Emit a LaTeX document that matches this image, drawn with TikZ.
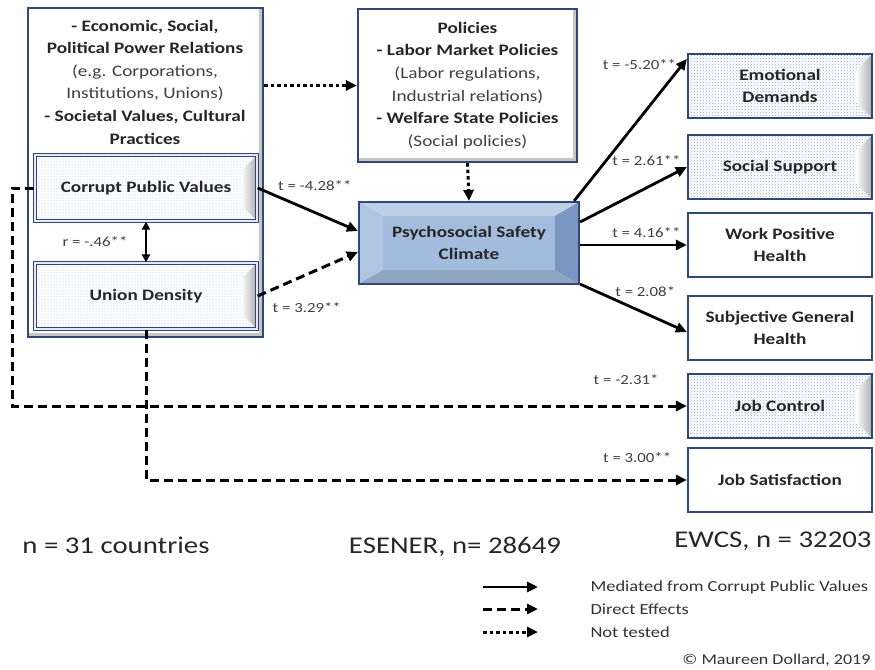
\documentclass[tikz,border=0pt]{standalone}
\usepackage{fontspec}
\setmainfont{Carlito}[FakeStretch=1.2]
\usetikzlibrary{arrows.meta,positioning,calc,patterns}

\definecolor{frameblue}{RGB}{47,72,120}
\definecolor{pscblue}{RGB}{163,187,221}
\definecolor{pscdark}{RGB}{122,150,194}
\definecolor{dotblue}{RGB}{150,170,212}
\definecolor{labelgray}{RGB}{64,64,64}

\begin{document}
\begin{tikzpicture}[
    x=1pt, y=-1pt,
    >={Triangle[length=11pt,width=10pt]},
    boxtext/.style={font=\fontsize{16}{22.6}\selectfont\bfseries, align=center, text=black!85},
    tlabel/.style={font=\fontsize{14}{16}\selectfont, text=labelgray, inner sep=1pt},
    sampletext/.style={font=\fontsize{24}{28}\selectfont, text=black!85, anchor=base},
    legtext/.style={font=\fontsize{15.4}{20}\selectfont, text=black!80, anchor=west},
    % grey wedge on the right hand side of the raised boxes
    wedge/.style={path picture={
        \coordinate (bbne) at (path picture bounding box.north east);
        \coordinate (bbse) at (path picture bounding box.south east);
        \shade[left color=white, right color=gray!65]
            (bbne) -- ($(bbne)+(-16,16)$) -- ($(bbse)+(-16,-16)$) -- (bbse) -- cycle;}},
    shadowframe/.style={draw=frameblue, line width=2.2pt, fill=white, boxtext, path picture={
        \coordinate (fne) at (path picture bounding box.north east);
        \coordinate (fse) at (path picture bounding box.south east);
        \coordinate (fsw) at (path picture bounding box.south west);
        \draw[gray!45, line width=9pt] (fne) -- (fse) -- (fsw);}},
    dotbox/.style={draw=frameblue, line width=1.3pt, double=white!75!dotblue, double distance=1.1pt,
        preaction={fill=white}, pattern=dots, pattern color=dotblue, boxtext, wedge,
        minimum width=222pt, minimum height=66pt},
    bevelbox/.style={draw=frameblue, line width=2.2pt, preaction={fill=white},
        pattern=crosshatch dots, pattern color=dotblue, boxtext, wedge},
    whitebox/.style={draw=frameblue, line width=2.2pt, fill=white, boxtext},
    outsize/.style={minimum width=184pt, minimum height=64pt},
    pscbox/.style={draw=frameblue, line width=2.2pt, fill=pscblue, boxtext, path picture={
        \coordinate (pnw) at (path picture bounding box.north west);
        \coordinate (pne) at (path picture bounding box.north east);
        \coordinate (pse) at (path picture bounding box.south east);
        \coordinate (psw) at (path picture bounding box.south west);
        \fill[pscblue!70!white] (pnw) -- (pne) -- ($(pne)+(-24,14)$) -- ($(pnw)+(24,14)$) -- cycle;
        \fill[pscblue!85!white] (pnw) -- (psw) -- ($(psw)+(24,-14)$) -- ($(pnw)+(24,14)$) -- cycle;
        \fill[pscblue!88!black] (psw) -- (pse) -- ($(pse)+(-24,-14)$) -- ($(psw)+(24,-14)$) -- cycle;
        \fill[pscdark] (pne) -- (pse) -- ($(pse)+(-24,-14)$) -- ($(pne)+(-24,14)$) -- cycle;}},
    mainarrow/.style={->, line width=2.8pt},
    directarrow/.style={->, line width=3pt, dash pattern=on 9pt off 5pt},
    untested/.style={->, line width=3pt, dash pattern=on 3.5pt off 3pt}
]
\useasboundingbox (0,0) rectangle (875,669);

% Context
\node[shadowframe, minimum width=235pt, minimum height=329pt] (ctx) at (145.5,172.5) {};
\node[boxtext] (ctxtext) at (145,82) {- Economic, Social,\\ Political Power Relations\\
    {\mdseries\color{labelgray}(e.g. Corporations,}\\ {\mdseries\color{labelgray}Institutions, Unions)}\\
    - Societal Values, Cultural\\ Practices};
\node[dotbox] (cpv) at (146,188) {Corrupt Public Values};
\node[dotbox] (ud) at (146,296) {Union Density};

% Policies and climate
\node[shadowframe, minimum width=219pt, minimum height=153pt] (pol) at (467.5,85.5) {Policies\\
    - Labor Market Policies\\ {\mdseries\color{labelgray}(Labor regulations,}\\
    {\mdseries\color{labelgray}Industrial relations)}\\ - Welfare State Policies\\
    {\mdseries\color{labelgray}(Social policies)}};
\node[pscbox, minimum width=220pt, minimum height=82pt] (psc) at (469,243) {Psychosocial Safety\\ Climate};

% Outcomes
\node[bevelbox, outsize] (ed) at (780,86) {Emotional\\ Demands};
\node[bevelbox, outsize] (ss) at (780,167) {Social Support};
\node[whitebox, outsize] (wph) at (780,245) {Work Positive\\ Health};
\node[whitebox, outsize] (sgh) at (780,328) {Subjective General\\ Health};
\node[bevelbox, outsize] (jc) at (780,406) {Job Control};
\node[whitebox, outsize] (js) at (780,480) {Job Satisfaction};

% Paths
\draw[untested] (pol.west -| ctx.east) -- (pol.west);
\draw[untested] (pol.south) -- (psc.north);
\draw[{Triangle[length=8pt,width=8pt]}-{Triangle[length=8pt,width=8pt]}, line width=2pt]
    (cpv.south) -- node[tlabel, xshift=-51pt] (rlab) {r = -.46**} (ud.north);
\draw[mainarrow] (cpv.east) -- node[tlabel, pos=.57, yshift=27pt] (t428) {t = -4.28**} ($(psc.west)+(0,-12)$);
\draw[directarrow] (ud.east) -- node[tlabel, pos=.49, yshift=-33pt] (t329) {t = 3.29**} ($(psc.west)+(0,9)$);

\draw[mainarrow] ($(psc.north east)+(-6,0)$) -- node[tlabel, pos=.96, xshift=-43pt] (t520) {t = -5.20**} ($(ed.north west)+(0,6)$);
\draw[mainarrow] ($(psc.east)+(0,-21)$) -- node[tlabel, pos=.62, yshift=27pt] (t261) {t = 2.61**} (ss.west);
\draw[mainarrow] (psc.east |- wph.west) -- node[tlabel, pos=.62, yshift=12pt] (t416) {t = 4.16**} (wph.west);
\draw[mainarrow] ($(psc.south east)+(0,-1)$) -- node[tlabel, pos=.61, yshift=22pt] (t208) {t = 2.08*} ($(sgh.west)+(0,4)$);

\coordinate (cpvdrop) at (12,406);
\draw[directarrow] (cpv.west) -| (cpvdrop) -- node[tlabel, pos=.91, yshift=26pt] (t231) {t = -2.31*} (jc.west);
\draw[directarrow] (ud.south) |- node[tlabel, pos=.954, yshift=22pt] (t300) {t = 3.00**} (js.west);

% Samples
\node[sampletext] (ncountries) at (116,553) {n = 31 countries};
\node[sampletext] (esener) at (455,553) {ESENER, n= 28649};
\node[sampletext] (ewcs) at (773,547) {EWCS, n = 32203};

% Legend
\node[legtext] (legmed) at (587,587) {Mediated from Corrupt Public Values};
\node[legtext] (legdir) at (587,609) {Direct Effects};
\node[legtext] (legnot) at (587,632) {Not tested};
\coordinate (legmeds) at (483,587); \coordinate (legmede) at (538,587);
\coordinate (legdirs) at (483,609); \coordinate (legdire) at (538,609);
\coordinate (legnots) at (483,632); \coordinate (legnote) at (538,632);
\draw[mainarrow] (legmeds) -- (legmede);
\draw[directarrow] (legdirs) -- (legdire);
\draw[untested] (legnots) -- (legnote);

\node[font=\fontsize{15}{18}\selectfont, text=black!80, anchor=east] (credit) at (874,660) {© Maureen Dollard, 2019};
\end{tikzpicture}
\end{document}
